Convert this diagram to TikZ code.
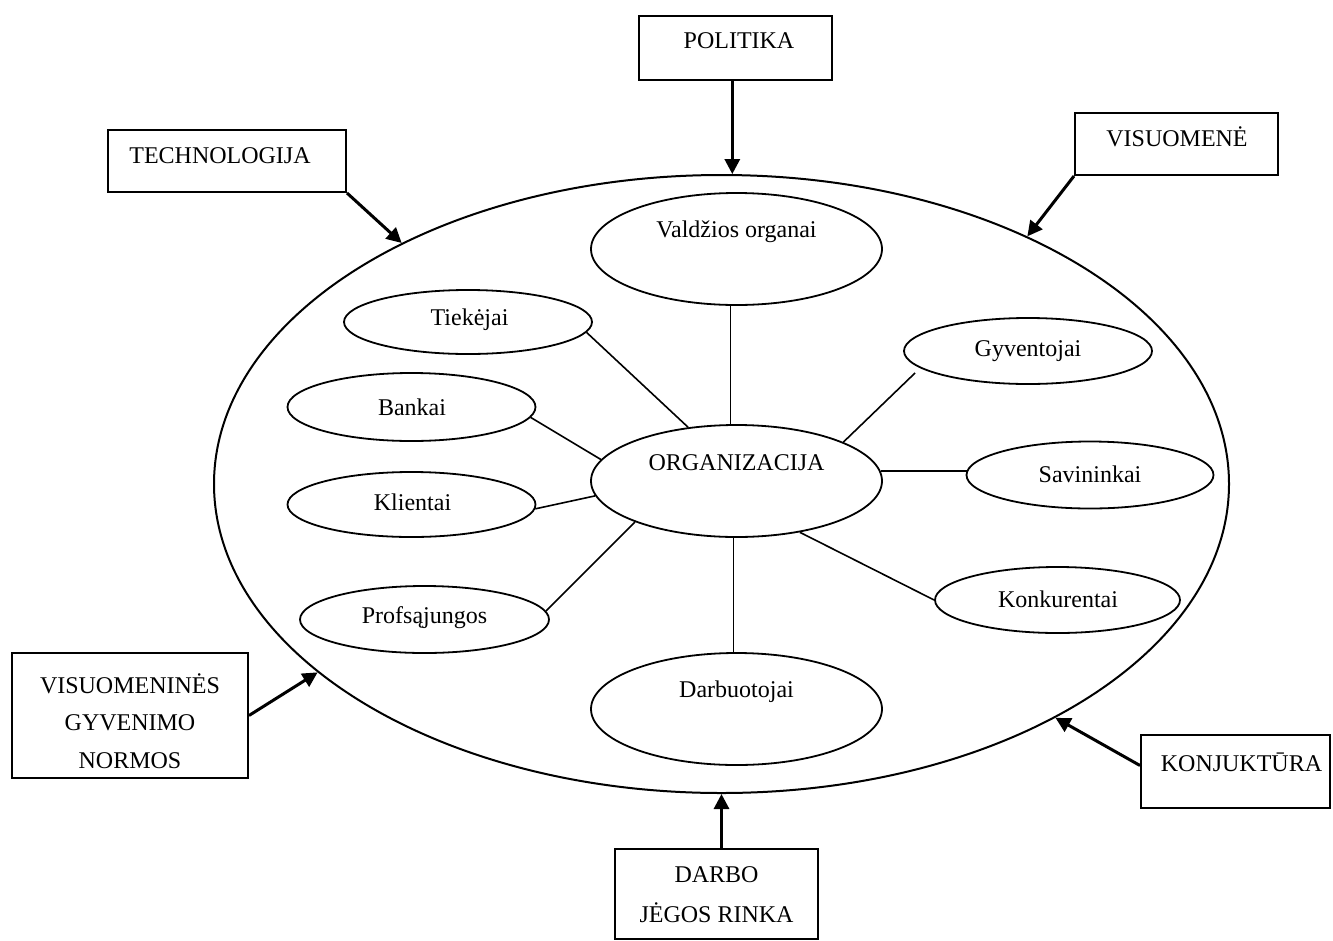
\documentclass[tikz,border=0pt]{standalone}
\usepackage{fontspec}
\setmainfont{Liberation Serif}
\usetikzlibrary{shapes.geometric,arrows.meta,fit}

\tikzset{
  txt/.style={inner sep=0pt, font=\fontsize{24}{28}\selectfont},
  factor/.style={draw, line width=2pt, rectangle, inner sep=0pt},
  oval/.style={draw, line width=1.8pt, ellipse, inner sep=0pt},
  link/.style={line width=1.6pt},
  push/.style={line width=3pt, -{Triangle[length=15pt,width=15pt]}}
}

\begin{document}
\begin{tikzpicture}[x=1pt, y=-1pt]
\useasboundingbox (0,0) rectangle (1333,940);

% environment of the organisation
\node[oval, line width=2pt, minimum width=1015pt, minimum height=618pt] (env) at (721.5,484) {};

% organisation and its stakeholders
\node[oval, minimum width=291pt, minimum height=112pt] (org) at (736.5,481) {};
\node[txt] (orgt) at (736.5,463) {ORGANIZACIJA};

\node[oval, minimum width=291pt, minimum height=112pt] (val) at (736.5,249) {};
\node[txt] (valt) at (736.5,232) {Valdžios organai};

\node[oval, minimum width=248pt, minimum height=64pt] (tie) at (468,322) {};
\node[txt] (tiet) at (469.5,320) {Tiekėjai};

\node[oval, minimum width=248pt, minimum height=68pt] (ban) at (411.5,407) {};
\node[txt] (bant) at (412,407) {Bankai};

\node[oval, minimum width=248pt, minimum height=65pt] (kli) at (411.5,504.5) {};
\node[txt] (klit) at (412.5,502) {Klientai};

\node[oval, minimum width=249pt, minimum height=67pt] (pro) at (424.5,619.5) {};
\node[txt] (prot) at (424.5,618) {Profsąjungos};

\node[oval, minimum width=291pt, minimum height=112pt] (dar) at (736.5,709) {};
\node[txt] (dart) at (736.5,692) {Darbuotojai};

\node[oval, minimum width=245pt, minimum height=66pt] (kon) at (1057.5,600) {};
\node[txt] (kont) at (1058,599) {Konkurentai};

\node[oval, minimum width=247pt, minimum height=67pt] (sav) at (1090,475) {};
\node[txt] (savt) at (1090,474) {Savininkai};

\node[oval, minimum width=248pt, minimum height=66pt] (gyv) at (1028,351) {};
\node[txt] (gyvt) at (1028,351) {Gyventojai};

% links between the organisation and the stakeholders
\draw[link] (val.264.4) -- (val.264.4 |- org.north);
\draw[link] (tie.355.4) -- (org.132.6);
\draw[link] (ban.355.8) -- (org.171.3);
\draw[link] (kli.358.4) -- (org.186.3);
\draw[link] (pro.4.6) -- (org.202.6);
\draw[link] ([xshift=-3pt]org.south) -- ([xshift=-3pt]dar.north);
\draw[link] (org.321.7) -- (kon.180);
\draw[link] (org.4.7) -- ([xshift=2pt]org.4.7 -| sav.west);
\draw[link, shorten >=7pt] (org.20.9) -- (gyv.189);

% external factors
\node[factor, fit={(639,16) (832,80)}] (pol) {};
\node[txt] (polt) at (739,41) {POLITIKA};

\node[factor, fit={(1075,113) (1278,175)}] (vis) {};
\node[txt] (vist) at (1177,137) {VISUOMENĖ};

\node[factor, fit={(108,130) (346,192)}] (tec) {};
\node[txt] (tect) at (220,156) {TECHNOLOGIJA};

\node[factor, fit={(12,653) (248,778)}] (nor) {};
\node[txt, align=center, font=\fontsize{24}{37.5}\selectfont] (nort) at (130,721)
  {VISUOMENINĖS\\GYVENIMO\\NORMOS};

\node[factor, fit={(1141,735) (1330,808)}] (kjt) {};
\node[txt] (kjtt) at (1241.5,762) {KONJUKTŪRA};

\node[factor, fit={(615,849) (818,939)}] (rin) {};
\node[txt, align=center, font=\fontsize{24}{40}\selectfont] (rint) at (716.5,895)
  {DARBO\\JĖGOS RINKA};

% influences acting on the environment
\draw[push] (pol.south -| env.88.2) -- (env.88.2);
\draw[push] (vis.south west) -- (env.39.8);
\draw[push] (tec.south east) -- (env.143.1);
\draw[push] (nor.east) -- (env.205.5);
\draw[push] ([yshift=6pt]kjt.west) -- (env.325.4);
\draw[push] (rin.north -| env.south) -- (env.south);
\end{tikzpicture}
\end{document}
